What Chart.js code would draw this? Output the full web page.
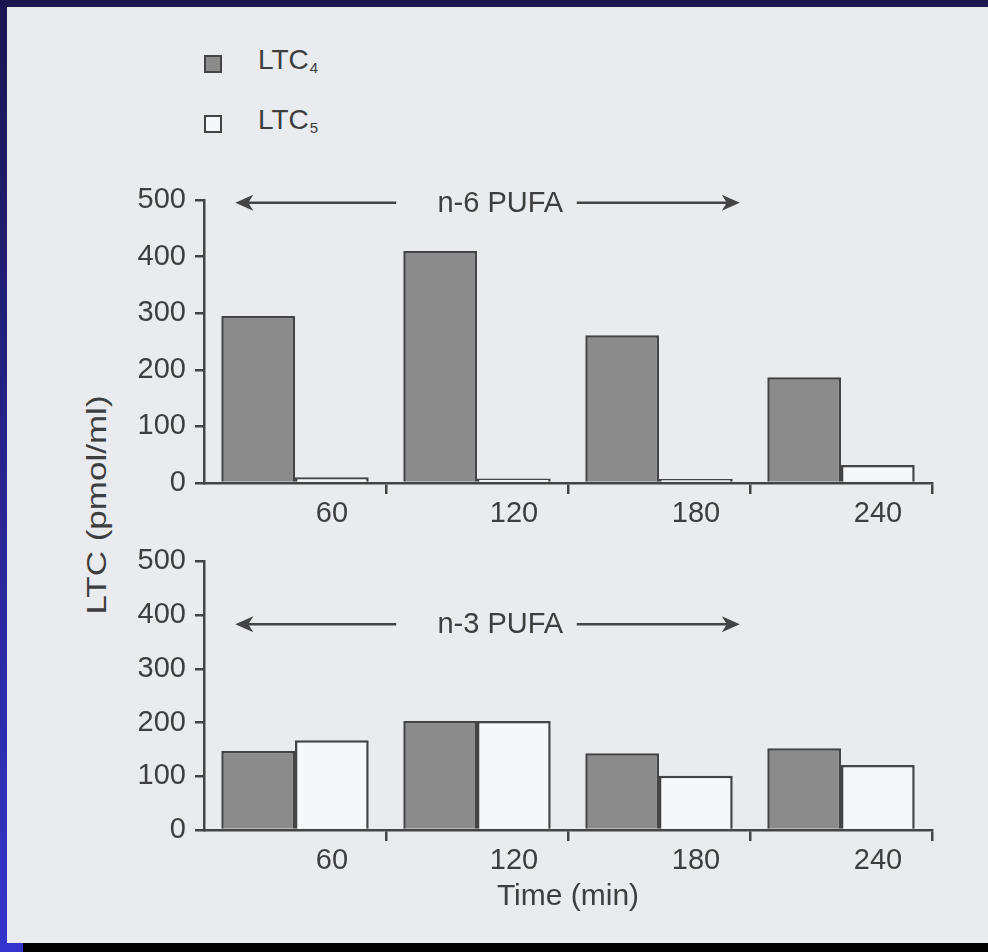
<!DOCTYPE html>
<html>
<head>
<meta charset="utf-8">
<script src="https://cdn.jsdelivr.net/npm/chart.js@4.4.1/dist/chart.umd.min.js"></script>
<style>
html, body { margin: 0; padding: 0; }
body { width: 988px; height: 952px; position: relative; overflow: hidden; background: #1a1650;
       font-family: "Liberation Sans", Arial, sans-serif; color: #3e3e3e; }
#leftbar { position: absolute; left: 0; top: 0; width: 7px; height: 952px; background: linear-gradient(#1a1650, #3434cc); }
#page { position: absolute; left: 7px; top: 7px; width: 981px; height: 936px; background: #e9ebee; }
#foot { position: absolute; left: 23px; top: 943px; width: 965px; height: 9px; background: #000; }
#footBlue { position: absolute; left: 0; top: 943px; width: 23px; height: 9px; background: #3434cc; }
canvas { position: absolute; left: 100px; }
#chartN6 { top: 150px; }
#chartN3 { top: 535px; }
#legend { position: absolute; left: 204px; top: 46px; }
.item { position: relative; height: 60px; }
.swatch { position: absolute; left: 0; top: 9px; width: 14px; height: 14px; border: 2.5px solid #444; }
.name { position: absolute; left: 54px; top: 0; font-size: 28px; line-height: 28px; white-space: nowrap; }
.name span { font-size: 15px; vertical-align: -4px; margin-left: 1px; }
#yTitle { position: absolute; left: 97px; top: 505px; font-size: 28px; line-height: 30px; white-space: nowrap;
          transform: translate(-50%, -50%) rotate(-90deg) scaleX(1.25); }
</style>
</head>
<body>
<div id="leftbar"></div>
<div id="page"></div>
<div id="footBlue"></div>
<div id="foot"></div>
<div id="legend"></div>
<div id="yTitle">LTC (pmol/ml)</div>
<canvas id="chartN6" width="860" height="385"></canvas>
<canvas id="chartN3" width="860" height="405"></canvas>
<script>
// ---------- data ----------
const timePoints   = ['60', '120', '180', '240'];
const seriesBase   = 'LTC';
const seriesSub    = ['4', '5'];
const n6_LTC4      = [295, 410, 261, 187];
const n6_LTC5      = [10, 8, 7, 32];
const n3_LTC4      = [147, 203, 143, 152];
const n3_LTC5      = [167, 203, 101, 121];
const yTicks       = [0, 100, 200, 300, 400, 500];

const FONT  = '"Liberation Sans", Arial, sans-serif';
const INK   = '#444';
const TXT   = '#3e3e3e';
const fills = ['#8b8b8b', '#f6f7f8'];

// legend (html, with real subscripts)
const legend = document.getElementById('legend');
seriesSub.forEach((s, i) => {
    const it = document.createElement('div');
    it.className = 'item';
    it.innerHTML = `<div class="swatch" style="background:${fills[i]}"></div><div class="name">${seriesBase}<span>${s}</span></div>`;
    legend.appendChild(it);
});

// arrows "<---- n-x PUFA ---->" drawn over the chart area
const pufaArrow = {
    id: 'pufaArrow',
    afterDatasetsDraw(chart, args, o) {
        const { ctx, chartArea: a, scales: { y } } = chart;
        const yy = y.getPixelForValue(o.level);
        const X = f => a.left + (a.right - a.left) * f;
        const head = (tip, dir) => {
            ctx.beginPath();
            ctx.moveTo(tip, yy);
            ctx.lineTo(tip + dir * 18, yy - 8);
            ctx.lineTo(tip + dir * 13, yy);
            ctx.lineTo(tip + dir * 18, yy + 8);
            ctx.closePath();
            ctx.fill();
        };
        ctx.save();
        ctx.strokeStyle = INK; ctx.fillStyle = INK; ctx.lineWidth = 2.5;
        ctx.beginPath();
        ctx.moveTo(X(0.043) + 12, yy); ctx.lineTo(X(0.264), yy);
        ctx.moveTo(X(0.512), yy); ctx.lineTo(X(0.736) - 12, yy);
        ctx.stroke();
        head(X(0.043), 1);
        head(X(0.736), -1);
        ctx.fillStyle = TXT;
        ctx.font = `29px ${FONT}`;
        ctx.textAlign = 'center'; ctx.textBaseline = 'middle';
        ctx.fillText(o.text, X(0.407), yy + 1);
        ctx.restore();
    }
};

function dibujar(id, ltc4, ltc5, cfg) {
    const ctx = document.getElementById(id).getContext('2d');
    const ds = [ltc4, ltc5].map((d, i) => ({
        label: seriesBase + seriesSub[i],
        data: d,
        backgroundColor: fills[i],
        borderColor: INK,
        borderWidth: 2.5,
        barPercentage: 1,
        categoryPercentage: 0.81
    }));
    return new Chart(ctx, {
        type: 'bar',
        data: { labels: timePoints, datasets: ds },
        plugins: [pufaArrow],
        options: {
            responsive: false,
            animation: false,
            layout: { padding: { top: cfg.padTop, right: 28, left: 0, bottom: 0 } },
            plugins: {
                legend: { display: false },
                tooltip: { enabled: false },
                pufaArrow: { level: cfg.arrowLevel, text: cfg.arrowText }
            },
            scales: {
                x: {
                    grid: { offset: true, drawOnChartArea: false, tickLength: 11, lineWidth: 2.5,
                            color: c => c.index === 0 ? 'rgba(0,0,0,0)' : INK },
                    border: { display: true, color: INK, width: 2.5 },
                    ticks: { font: { family: FONT, size: 29 }, color: TXT, labelOffset: 37, padding: 3 },
                    title: cfg.xTitle
                        ? { display: true, text: cfg.xTitle, color: TXT, font: { family: FONT, size: 30 }, padding: { top: 0, bottom: 25 } }
                        : { display: false },
                    afterFit: s => { s.height = cfg.xHeight; }
                },
                y: {
                    min: 0, max: 500,
                    afterBuildTicks: s => { s.ticks = yTicks.map(v => ({ value: v })); },
                    grid: { drawOnChartArea: false, tickLength: 9, lineWidth: 2.5, color: INK },
                    border: { display: true, color: INK, width: 2.5 },
                    ticks: { font: { family: FONT, size: 29 }, color: TXT, padding: 9 },
                    afterFit: s => { s.width = 104; }
                }
            }
        }
    });
}

dibujar('chartN6', n6_LTC4, n6_LTC5, { padTop: 50, xHeight: 52, arrowLevel: 495, arrowText: 'n-6 PUFA' });
dibujar('chartN3', n3_LTC4, n3_LTC5, { padTop: 9, xHeight: 110, arrowLevel: 383, arrowText: 'n-3 PUFA', xTitle: 'Time (min)' });
</script>
</body>
</html>
